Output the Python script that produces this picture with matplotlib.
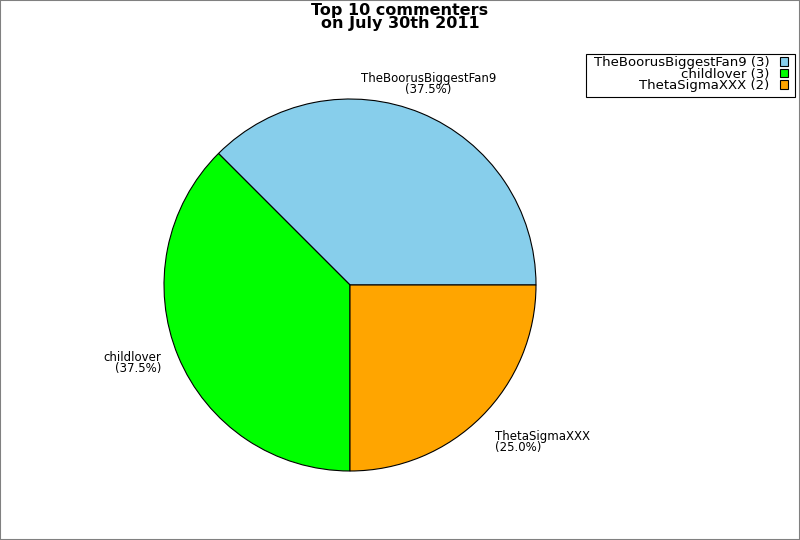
import numpy as np
import matplotlib
matplotlib.use("Agg")
import matplotlib.pyplot as plt
from matplotlib.patches import Rectangle

# data
names = ["TheBoorusBiggestFan9", "childlover", "ThetaSigmaXXX"]
counts = [3, 3, 2]
colors = ["#87CEEB", "#00FF00", "#FFA500"]

fig = plt.figure(figsize=(8, 5.4), dpi=100)

# pie centre at (350, 285) px, radius ~186 px
r_px = 186
cx, cy = 350, 285
ax = fig.add_axes([(cx - r_px) / 800, (540 - cy - r_px) / 540,
                   2 * r_px / 800, 2 * r_px / 540])
wedges, _ = ax.pie(counts, colors=colors, startangle=0, counterclock=True,
                   wedgeprops=dict(edgecolor="black", linewidth=0.8))
ax.set_xlim(-1, 1)
ax.set_ylim(-1, 1)
ax.set_aspect("equal")
ax.axis("off")

# slice labels, aligned away from the centre
total = sum(counts)
start = 0.0
for name, c in zip(names, counts):
    frac = c / total
    mid = np.deg2rad(360 * (start + frac / 2))
    start += frac
    x, y = 1.1 * np.cos(mid), 1.1 * np.sin(mid)
    if abs(np.cos(mid)) < 0.5:
        ha = "center"
    elif np.cos(mid) > 0:
        ha = "left"
    else:
        ha = "right"
    if np.sin(mid) > 0.5:
        va = "bottom"
    elif np.sin(mid) < -0.5:
        va = "top"
    else:
        va = "center"
    ax.text(x, y, f"{name}\n({frac * 100:.1f}%)", ha=ha, va=va,
            multialignment=ha, fontsize=8.5, linespacing=0.8, clip_on=False)

fig.text(0.5, 1 - 3 / 540, "Top 10 commenters\non July 30th 2011",
         ha="center", va="top", fontsize=11.5, fontweight="bold",
         linespacing=0.85)

# legend entries without frame, frame drawn separately to match the box
leg = fig.legend(wedges, [f"{n} ({c})" for n, c in zip(names, counts)],
                 loc="upper right", bbox_to_anchor=(788 / 800, 1 - 56 / 540),
                 markerfirst=False, frameon=False, fontsize=9.5,
                 handlelength=0.6, handleheight=0.65, handletextpad=0.8,
                 labelspacing=-0.1, borderpad=0, borderaxespad=0)
for h in leg.legend_handles:
    h.set_linewidth(0.8)

fig.patches.append(Rectangle((586 / 800, 1 - 97 / 540), 209 / 800, 43 / 540,
                             transform=fig.transFigure, fill=False,
                             edgecolor="black", linewidth=0.8))
fig.patches.append(Rectangle((0, 0), 1, 1, transform=fig.transFigure,
                             fill=False, edgecolor="#808080", linewidth=1.5))

fig.savefig("out.png", dpi=100)
